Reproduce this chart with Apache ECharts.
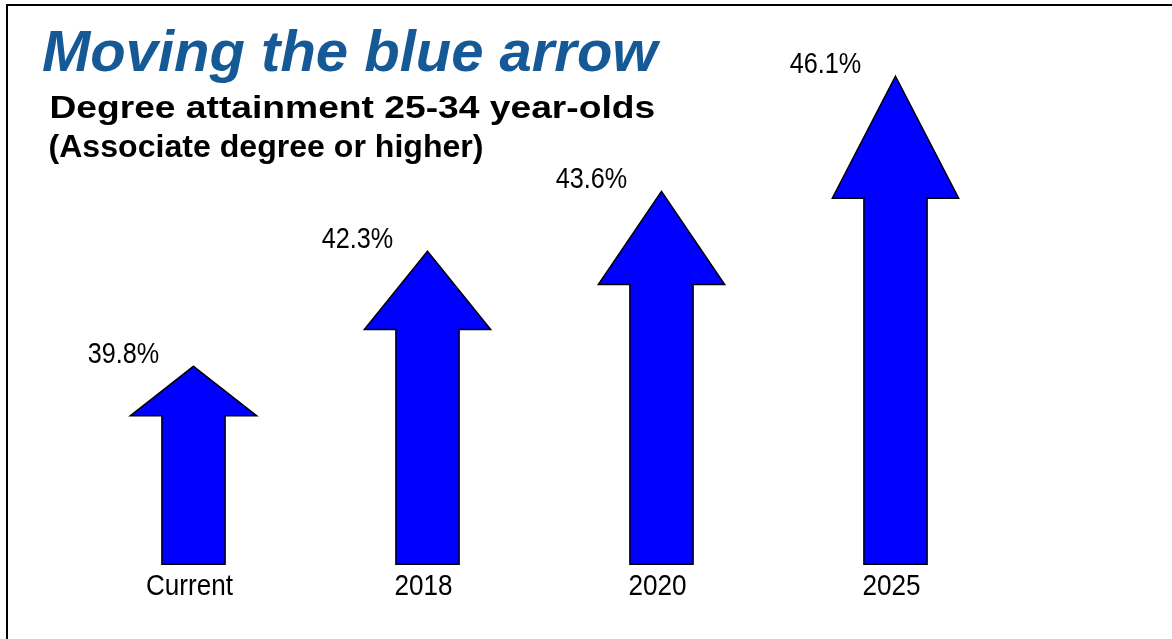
<!DOCTYPE html>
<html>
<head>
<meta charset="utf-8">
<script src="https://cdn.jsdelivr.net/npm/echarts@6/dist/echarts.min.js"></script>
<style>html,body{margin:0;padding:0;background:#fff}#c{width:1172px;height:639px}</style>
</head>
<body>
<div id="c"></div>
<script>
const categories = ['Current', '2018', '2020', '2025'];
const attainment = [39.8, 42.3, 43.6, 46.1];
const valueLabels = ['39.8%', '42.3%', '43.6%', '46.1%'];
const titleText = 'Moving the blue arrow';
const subtitle1 = 'Degree attainment 25-34 year-olds';
const subtitle2 = '(Associate degree or higher)';

const sans = '"Liberation Sans", Arial, sans-serif';
const chart = echarts.init(document.getElementById('c'));

chart.setOption({
  backgroundColor: '#fff',
  animation: false,
  grid: { left: 76.5, width: 936, top: 34.8, bottom: 74.7 },
  xAxis: {
    type: 'category', data: categories,
    axisLine: { show: false }, axisTick: { show: false },
    axisLabel: { show: false }
  },
  yAxis: {
    type: 'value', min: 35.5, max: 47,
    show: false, splitLine: { show: false }
  },
  graphic: [
    { type: 'rect', shape: { x: 7, y: 5, width: 1400, height: 900 },
      style: { fill: 'none', stroke: '#000', lineWidth: 2 }, z: 100 },
    { type: 'text', x: 42, y: 55,
      style: { text: titleText, fill: '#155a97', verticalAlign: 'middle',
               font: 'italic bold 58px ' + sans } },
    { type: 'text', x: 49.4, y: 109, scaleX: 1.2,
      style: { text: subtitle1, fill: '#000', verticalAlign: 'middle',
               font: 'bold 31px ' + sans } },
    { type: 'text', x: 48.5, y: 148, scaleX: 1.035,
      style: { text: subtitle2, fill: '#000', verticalAlign: 'middle',
               font: 'bold 31px ' + sans } }
  ],
  series: [{
    type: 'custom',
    data: attainment.map((v, i) => [i, v]),
    renderItem: function (params, api) {
      const idx = api.value(0);
      const top = api.coord([idx, api.value(1)]);
      const cs = params.coordSys;
      const bottom = cs.y + cs.height;
      const band = api.size([1, 0])[0];
      const cx = top[0];
      const hw = band * 0.54 / 2;
      const sw = band * 0.27 / 2;
      const hh = (bottom - top[1]) * 0.25;
      const ty = top[1];
      return {
        type: 'group',
        children: [
          {
            type: 'polygon',
            shape: { points: [
              [cx, ty], [cx + hw, ty + hh], [cx + sw, ty + hh], [cx + sw, bottom],
              [cx - sw, bottom], [cx - sw, ty + hh], [cx - hw, ty + hh]
            ] },
            style: { fill: '#0000ff', stroke: '#000', lineWidth: 1.5 }
          },
          {
            type: 'text',
            x: cx - 70, y: ty + 3, scaleX: 0.87,
            style: {
              text: valueLabels[params.dataIndex], fill: '#000',
              font: '29px ' + sans, align: 'center', verticalAlign: 'bottom'
            }
          },
          {
            type: 'text',
            x: cx - 4, y: bottom + 7.3, scaleX: 0.87,
            style: {
              text: categories[params.dataIndex], fill: '#000',
              font: '30px ' + sans, align: 'center', verticalAlign: 'top'
            }
          }
        ]
      };
    }
  }]
});
</script>
</body>
</html>
